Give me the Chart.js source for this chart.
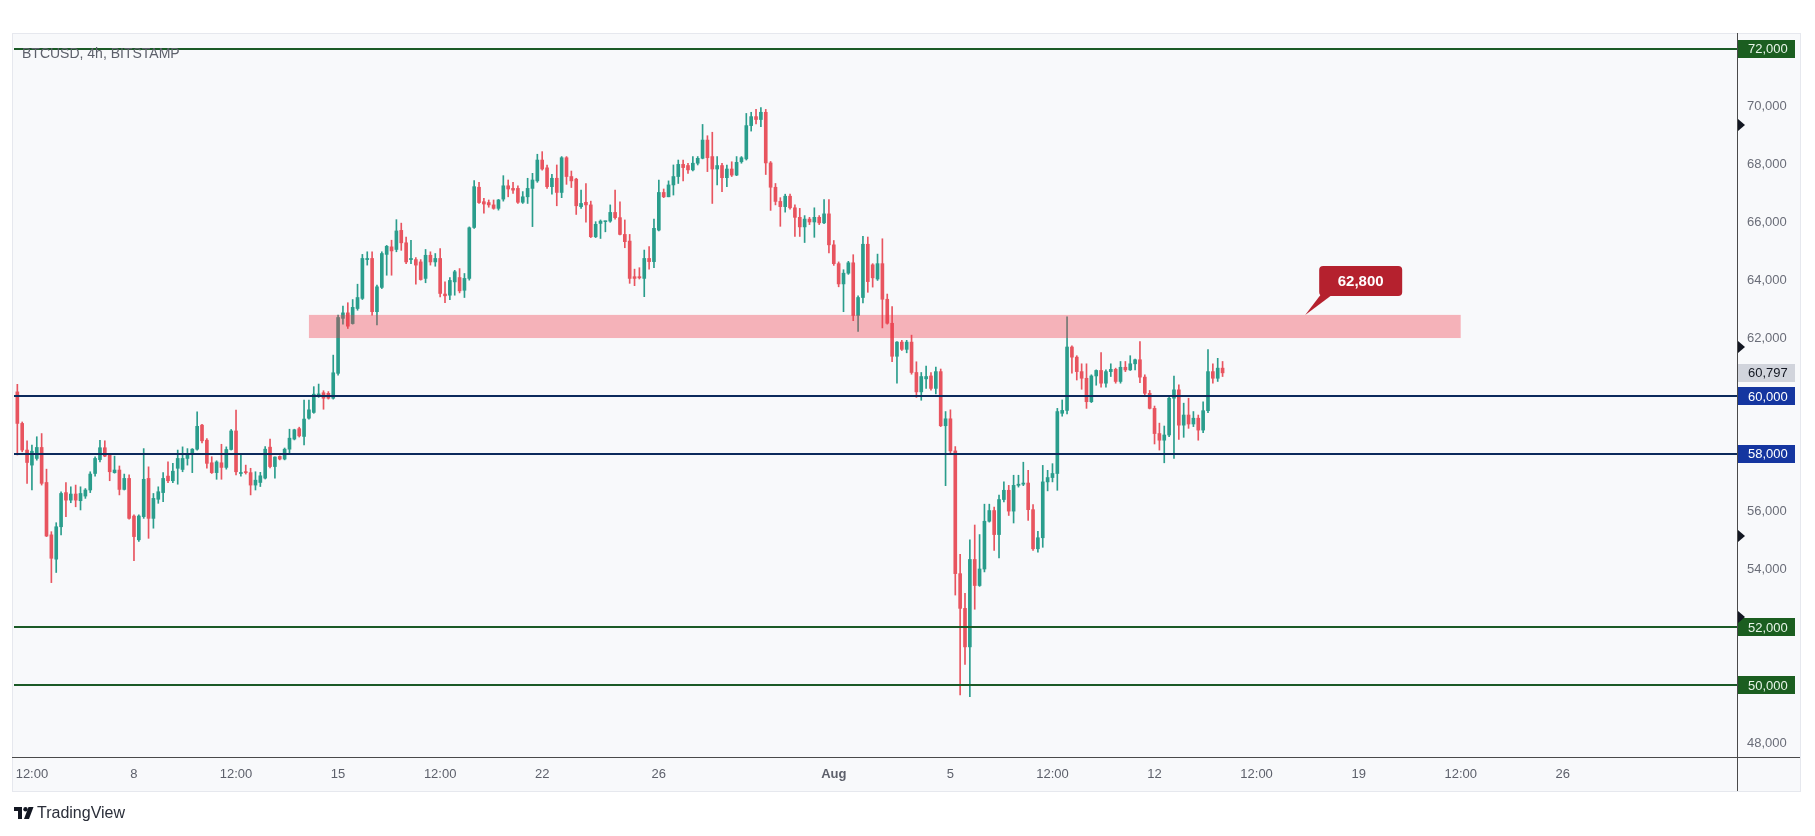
<!DOCTYPE html>
<html><head><meta charset="utf-8">
<script src="https://cdn.jsdelivr.net/npm/chart.js@4.4.1/dist/chart.umd.min.js"></script>
<style>
html,body{margin:0;padding:0;background:#fff;overflow:hidden;}
canvas{display:block;}
</style></head><body>
<canvas id="c" width="1815" height="836"></canvas>
<script>
// ---------------- DATA ----------------
const symbolTitle = 'BTCUSD, 4h, BITSTAMP';
const startTime = '2024-07-04T00:00:00Z';
const candleHours = 4;

const opens = [
60140,59050,58130,57610,57840,58220,57010,55200,54360,55480,
56660,56400,56610,56380,56540,56750,57320,57800,58210,57950,
57350,57440,56770,57150,55850,55030,55830,57150,55770,56430,
56660,57230,57070,57500,57460,57840,58010,58160,58990,58470,
57690,57350,57690,57530,58150,58790,57320,57380,57350,56920,
57010,57160,58230,57560,57910,57820,58160,58510,58870,58600,
59230,59430,59980,60110,60090,59920,60780,62680,62870,62500,
63020,63370,64710,64750,62910,63750,64890,65150,65060,65720,
65290,64710,64710,64630,64060,64860,64630,64750,63520,63480,
63940,64090,63650,64060,65820,67210,66710,66680,66600,66480,
66800,67260,67170,67170,66690,66880,67170,67430,68150,67880,
67230,67520,67030,68230,67580,67490,66540,66690,66600,65500,
65960,66020,66040,66340,66160,65580,65350,64120,64120,64060,
64750,64640,65730,67030,66880,67290,67580,68000,67960,67810,
68040,68210,68840,68270,67840,67960,67540,67840,67630,68090,
68190,69340,69650,69550,69800,68050,67210,66720,66540,66900,
66500,66170,65840,66110,66010,66170,65980,66290,65220,64570,
63870,64240,64600,62780,63400,65240,64530,64040,64570,63340,
62510,61370,61860,61610,61860,60810,60140,60590,60690,60260,
60840,58970,59210,58100,53860,52660,51330,54350,53450,54020,
55670,56040,55210,56420,56740,56020,56910,56950,56990,56070,
54720,55100,57030,57180,57320,59400,59500,61690,61340,60840,
60610,59800,60690,60880,60440,60840,60920,60500,60990,60900,
61110,61250,60650,60090,59570,58700,58470,58650,59920,60210,
58990,59340,59030,59230,58820,59490,60840,60610,60960];

const highs = [
60400,59100,58450,58300,58590,58700,57470,55310,55620,56690,
57010,56860,56920,56860,56800,57380,57900,58470,58450,58010,
57920,57580,57300,57270,55890,55890,58180,57550,56630,56860,
57350,57720,57670,58130,58240,58180,58180,59450,59020,58530,
57900,57760,58330,58240,58840,59510,58010,57610,57500,57380,
57360,58250,58510,57900,57930,58200,58850,58850,58920,59860,
59860,60320,60410,60180,60150,61410,62790,63100,63220,63330,
63860,64890,64980,64980,63830,64980,65200,65380,66090,65970,
65490,65380,64780,64710,65060,64980,64920,65090,63940,64090,
64340,64400,64230,65840,67440,67380,66830,66770,66770,66790,
67610,67460,67380,67260,67060,67520,67690,68350,68440,67980,
67660,67980,68270,68270,67770,67520,67110,67340,66730,66020,
66080,66040,66600,67110,66710,66080,65580,64380,64430,65040,
65160,66110,67460,67150,67430,67980,68150,68150,68040,68270,
68270,69380,68990,69110,68270,68040,67980,68090,68270,68270,
69760,69800,69900,69960,69900,68100,67340,66850,66970,66970,
66600,66480,66230,66170,66500,66230,66780,66780,65370,64630,
64360,64650,64880,63460,65510,65490,64570,64900,65430,63520,
63090,61880,61920,61920,62100,61180,60810,61030,60810,61000,
60930,59460,59520,58250,54530,53180,55030,55540,55210,56260,
56260,56160,56570,57030,56910,57260,57260,57710,57430,56250,
55320,57600,57430,57660,59570,59860,62730,61730,61390,61110,
61110,60730,60900,61500,60900,61110,60960,61190,61190,61390,
61270,61880,60730,60190,59650,59060,58960,59980,60690,60380,
59750,59920,59460,59340,59800,61600,61110,61300,61190];

const lows = [
57960,58070,56980,56750,57780,56920,55140,53550,53900,55200,
55830,56310,56170,56060,56460,56660,57230,57720,57900,57070,
57330,56580,56750,55740,54310,54970,55770,55080,55430,56290,
56350,57000,57000,56950,57380,57610,57350,58130,58380,57500,
57320,57120,57120,57470,58130,57270,57230,57300,56580,56750,
56870,57130,57510,57160,57790,57790,57970,58480,58580,58310,
59200,59400,59950,59540,59890,59890,60720,62480,62330,62480,
62960,63330,64520,62790,62450,63710,64170,64170,64980,65030,
64570,64570,63860,64000,63910,64520,64480,63420,63220,63330,
63480,63560,63400,64000,65790,66650,66310,66520,66450,66420,
66730,66880,67000,66650,66650,66650,65850,67380,67800,67170,
66970,66570,66850,67310,67200,66270,66480,66000,65470,65470,
65440,65670,66000,66110,65560,65120,63890,63810,64040,63430,
64380,64430,65700,66850,66880,66940,67340,67430,67690,67770,
67980,68190,67750,66650,67290,67060,67230,67580,67610,68040,
68150,69150,69400,69300,67650,66410,66600,65860,66350,66450,
65510,65510,65300,65920,65480,65920,65950,64940,64510,63770,
62910,64200,62600,62230,63210,63580,63760,63990,62350,62480,
61180,60440,61570,61490,60750,59950,59850,60260,60200,60070,
58940,56900,58000,53120,49670,50720,49610,52630,53420,53920,
55640,54660,54400,56340,55870,55610,56850,56900,55700,54660,
54600,54770,56720,57030,56740,59300,59380,60790,60550,60230,
59570,59770,60370,60300,60300,60670,60440,60440,60840,60880,
60900,60460,60030,59550,58340,58130,57690,58590,57840,58500,
58570,58880,58940,58470,58730,59420,60440,60500,60670];

const closes = [
59050,58130,57700,58090,58220,56980,55160,54390,55480,56630,
56400,56610,56400,56630,56750,57300,57840,58210,57920,57380,
57440,56770,57150,55770,55140,55850,57120,55770,56460,56690,
57150,57070,57400,57840,57840,58010,58160,58950,58450,57670,
57350,57720,57530,58150,58790,57380,57350,57350,56920,57090,
57240,58160,57560,57890,57820,58160,58540,58830,58620,59200,
59520,60060,60070,59920,59920,60800,62710,62870,62410,63060,
63400,64750,64750,62910,63770,64920,65170,65010,65700,65290,
64630,64750,64520,64020,64860,64630,64750,63540,63460,63990,
64290,63630,64060,65810,67230,66680,66630,66600,66480,66770,
67260,67150,67110,66690,66880,67170,67460,68150,67840,67230,
67520,67030,68230,67580,67430,66570,66650,66600,65500,65930,
66040,66040,66340,66160,65580,65330,64060,64060,64080,64750,
64640,65790,67030,66880,67290,67580,68000,67890,67810,68040,
68210,68840,68230,67840,67960,67540,67840,67630,68070,68230,
69340,69650,69550,69800,68050,67210,66720,66540,66900,66500,
66170,65840,66110,66010,66170,65980,66290,65220,64570,63870,
64240,64600,62780,63400,65240,63950,64080,64570,63340,62510,
61370,61860,61610,61860,60810,60140,60670,60670,60260,60840,
58970,59210,58100,53860,52660,51330,54350,53450,54020,55670,
56040,55210,56420,56740,56020,56910,56950,56990,56070,54720,
55100,57030,57180,57320,59460,59500,61690,61340,60840,60610,
59800,60690,60880,60440,60840,60920,60500,60990,60900,61110,
61250,60650,60090,59570,58700,58470,58650,59920,60210,58990,
59340,59030,59230,58820,59490,60840,60610,60960,60797];

const tickDates = ['2024-07-04T12:00:00Z','2024-07-08T00:00:00Z','2024-07-11T12:00:00Z','2024-07-15T00:00:00Z',
  '2024-07-18T12:00:00Z','2024-07-22T00:00:00Z','2024-07-26T00:00:00Z','2024-08-01T00:00:00Z',
  '2024-08-05T00:00:00Z','2024-08-08T12:00:00Z','2024-08-12T00:00:00Z','2024-08-15T12:00:00Z',
  '2024-08-19T00:00:00Z','2024-08-22T12:00:00Z','2024-08-26T00:00:00Z'];
const tickLabels = ['12:00','8','12:00','15','12:00','22','26','Aug','5','12:00','12','12:00','19','12:00','26'];
const axisStart = '2024-07-03T21:15:00Z';
const axisEnd = '2024-08-31T23:25:00Z';

const yTicks = [48000,50000,52000,54000,56000,58000,60000,62000,64000,66000,68000,70000];
const yMin = 47525, yMax = 72470;

const levelPrices = [72000, 60000, 58000, 52000, 50000];
const levelGroups = ['green','blue','blue','green','green'];
const lastPrice = 60797;
const zonePrices = [62000, 62800];
const zoneDates = ['2024-07-14T00:00:00Z','2024-08-22T12:00:00Z'];
const calloutText = '62,800';
const calloutDate = '2024-08-17T04:00:00Z';
const calloutPrice = 62800;
const axisMarkerPrices = [69360, 61690, 55160, 52360];

// ---------------- HELPERS ----------------
const t0 = Date.parse(startTime);
const toIdx = d => (Date.parse(d) - t0) / (candleHours * 3600e3);
const tickIdx = tickDates.map(toIdx);
const fmt = v => v.toLocaleString('en-US');
const FONT = '"Liberation Sans", Arial, sans-serif';
const UP = '#2a9d8c', DOWN = '#e8545f';
const styles = {
  green: {line:'#1b5a27', badge:'#1b5e20', text:'#e8f5e9'},
  blue:  {line:'#0c2a5c', badge:'#1536a0', text:'#ffffff'}
};

const candleColors = closes.map((c,i) => c >= opens[i] ? UP : DOWN);
const bodyData = closes.map((c,i) => ({x:i, y:[opens[i], c]}));
const wickData = closes.map((c,i) => ({x:i, y:[lows[i], highs[i]]}));

// ---------------- PLUGIN ----------------
const overlay = {
  id:'overlay',
  beforeDraw(chart){
    const c = chart.ctx, a = chart.chartArea;
    c.save();
    c.fillStyle = '#ffffff'; c.fillRect(0,0,chart.width,chart.height);
    c.fillStyle = '#f8f9fb';
    c.fillRect(a.left-2, a.top-2, (a.right+63)-(a.left-2), (a.bottom+34)-(a.top-2));
    c.strokeStyle = '#e6e8ee'; c.lineWidth = 1;
    c.strokeRect(a.left-1.5, a.top-1.5, (a.right+63)-(a.left-2), (a.bottom+34)-(a.top-2));
    c.restore();
  },
  afterDatasetsDraw(chart){
    const c = chart.ctx, a = chart.chartArea, xs = chart.scales.x, ys = chart.scales.y;
    c.save();
    c.beginPath(); c.rect(a.left, a.top, a.right-a.left, a.bottom-a.top); c.clip();
    const zx1 = xs.getPixelForValue(toIdx(zoneDates[0])), zx2 = xs.getPixelForValue(toIdx(zoneDates[1]));
    const zy1 = ys.getPixelForValue(zonePrices[1]), zy2 = ys.getPixelForValue(zonePrices[0]);
    c.fillStyle = 'rgba(242,54,69,0.36)';
    c.fillRect(zx1, zy1, zx2-zx1, zy2-zy1);
    levelPrices.forEach((p,i) => {
      const y = Math.round(ys.getPixelForValue(p));
      c.strokeStyle = styles[levelGroups[i]].line; c.lineWidth = 2;
      c.beginPath(); c.moveTo(a.left, y); c.lineTo(a.right, y); c.stroke();
    });
    c.restore();
  },
  afterDraw(chart){
    const c = chart.ctx, a = chart.chartArea, xs = chart.scales.x, ys = chart.scales.y;
    c.save();
    c.strokeStyle = '#4a4a4a'; c.lineWidth = 1;
    c.beginPath(); c.moveTo(a.right+0.5, a.top-2); c.lineTo(a.right+0.5, a.bottom+34); c.stroke();
    c.beginPath(); c.moveTo(a.left-2, a.bottom+0.5); c.lineTo(a.right+63, a.bottom+0.5); c.stroke();
    const badge = (p, bg, fg) => {
      const y = ys.getPixelForValue(p);
      c.fillStyle = bg; c.fillRect(a.right+1, Math.round(y-9), 57, 18);
      c.fillStyle = fg; c.font = '13px ' + FONT; c.textBaseline = 'middle'; c.textAlign = 'left';
      c.fillText(fmt(p), a.right+11, y+1);
    };
    levelPrices.forEach((p,i) => badge(p, styles[levelGroups[i]].badge, styles[levelGroups[i]].text));
    badge(lastPrice, '#d1d4dc', '#131722');
    c.fillStyle = '#131722';
    axisMarkerPrices.forEach(p => {
      const y = ys.getPixelForValue(p);
      c.beginPath(); c.moveTo(a.right+1, y-6); c.lineTo(a.right+8, y); c.lineTo(a.right+1, y+6); c.closePath(); c.fill();
    });
    c.fillStyle = '#5d606b'; c.font = '14px ' + FONT; c.textBaseline = 'middle'; c.textAlign = 'left';
    c.fillText(symbolTitle, a.left+8, a.top+19);
    const ax = xs.getPixelForValue(toIdx(calloutDate)), ay = ys.getPixelForValue(calloutPrice);
    c.fillStyle = '#b5212e';
    c.beginPath(); c.moveTo(ax, ay); c.lineTo(ax+16, ay-21); c.lineTo(ax+28, ay-21); c.closePath(); c.fill();
    const bx = ax+14, by = ay-49, bw = 83, bh = 30;
    c.beginPath(); c.roundRect(bx, by, bw, bh, 4); c.fill();
    c.fillStyle = '#ffffff'; c.font = 'bold 15px ' + FONT; c.textAlign = 'center';
    c.fillText(calloutText, bx+bw/2, by+bh/2+1);
    const lx = a.left, ly = a.bottom + 50;
    c.fillStyle = '#131722';
    c.fillRect(lx, ly, 8, 4); c.fillRect(lx+4, ly, 4, 12);
    c.beginPath(); c.arc(lx+11.5, ly+2.2, 2.2, 0, Math.PI*2); c.fill();
    c.beginPath(); c.moveTo(lx+14.5, ly); c.lineTo(lx+19.5, ly); c.lineTo(lx+15, ly+12); c.lineTo(lx+10, ly+12); c.closePath(); c.fill();
    c.font = '16px ' + FONT; c.textAlign = 'left'; c.fillStyle = '#2a2e39';
    c.fillText('TradingView', lx+23, ly+6.5);
    c.restore();
  }
};

// ---------------- CHART ----------------
new Chart(document.getElementById('c'), {
  type: 'bar',
  data: {
    datasets: [
      {data: bodyData, backgroundColor: candleColors, barThickness: 3, minBarLength: 1, grouped: false, order: 0, borderWidth: 0},
      {data: wickData, backgroundColor: candleColors, barThickness: 1, grouped: false, order: 1, borderWidth: 0}
    ]
  },
  options: {
    responsive: false, animation: false, devicePixelRatio: 1,
    layout: {padding: {left: 14, right: 15, top: 35, bottom: 45}},
    plugins: {legend: {display: false}, tooltip: {enabled: false}},
    scales: {
      x: {
        type: 'linear', min: toIdx(axisStart), max: toIdx(axisEnd), offset: false,
        grid: {display: false, drawTicks: false}, border: {display: false},
        afterBuildTicks: s => { s.ticks = tickIdx.map(v => ({value: v})); },
        afterFit: s => { s.height = 34; },
        ticks: {
          autoSkip: false, maxRotation: 0, padding: 10, color: '#5d606b',
          callback: (v, i) => tickLabels[i],
          font: ctx => ({size: 13, family: FONT, weight: tickLabels[ctx.index] === 'Aug' ? 'bold' : 'normal'})
        }
      },
      y: {
        position: 'right', min: yMin, max: yMax,
        grid: {display: false, drawTicks: false}, border: {display: false},
        afterBuildTicks: s => { s.ticks = yTicks.map(v => ({value: v})); },
        afterFit: s => { s.width = 63; },
        ticks: {padding: 10, color: '#6a6d78', font: {size: 13, family: FONT}, callback: v => fmt(v)}
      }
    }
  },
  plugins: [overlay]
});
</script>
</body></html>
